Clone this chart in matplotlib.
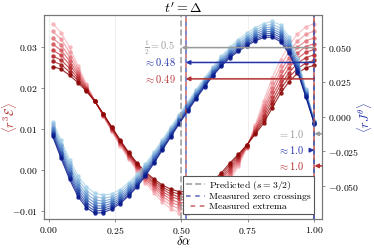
import numpy as np
import matplotlib
matplotlib.use("Agg")
import matplotlib.pyplot as plt
from matplotlib.colors import LinearSegmentedColormap
from matplotlib.ticker import FuncFormatter

plt.rcParams["font.family"] = "serif"
plt.rcParams["font.serif"] = ["cmr10"]
plt.rcParams["mathtext.fontset"] = "cm"
plt.rcParams["axes.formatter.use_mathtext"] = True

# -----------------------------
#  data (values in units of 1e-3)
# -----------------------------
d_alpha = np.linspace(0.015, 1.0, 32)

# <r^3 E>, darkest run first, lightest last
red_runs = [
    [25.3, 24.7, 23.2, 21.4, 19.3, 16.8, 13.8, 10.6, 7.4, 4.4, 1.8, -0.4, -2.1, -3.6, -4.6, -5.2,
     -5.2, -4.8, -4.0, -2.5, -0.6, 1.8, 3.9, 6.2, 8.8, 11.5, 15.2, 18.8, 21.6, 23.7, 25.0, 25.6],
    [26.6, 25.8, 24.0, 21.9, 19.5, 16.8, 13.7, 10.5, 7.2, 4.2, 1.6, -0.7, -2.5, -4.1, -5.2, -5.8,
     -5.8, -5.4, -4.6, -3.1, -1.2, 1.3, 3.6, 6.1, 9.1, 12.2, 16.1, 19.8, 22.7, 24.8, 26.2, 26.8],
    [27.9, 26.9, 24.9, 22.4, 19.7, 16.9, 13.7, 10.3, 7.1, 4.0, 1.3, -1.1, -3.0, -4.6, -5.8, -6.5,
     -6.5, -6.1, -5.2, -3.7, -1.8, 0.7, 3.2, 6.0, 9.4, 12.9, 17.0, 20.9, 23.8, 26.1, 27.5, 28.2],
    [29.3, 28.1, 25.8, 23.0, 19.9, 16.9, 13.6, 10.2, 6.9, 3.8, 1.0, -1.4, -3.4, -5.2, -6.4, -7.1,
     -7.2, -6.7, -5.9, -4.3, -2.3, 0.2, 2.8, 5.9, 9.6, 13.6, 18.0, 21.9, 25.0, 27.3, 28.8, 29.5],
    [30.8, 29.3, 26.7, 23.5, 20.2, 16.9, 13.5, 10.0, 6.7, 3.6, 0.8, -1.8, -3.9, -5.7, -7.1, -7.9,
     -7.9, -7.5, -6.5, -5.0, -3.0, -0.4, 2.4, 5.8, 9.9, 14.4, 19.0, 23.1, 26.2, 28.6, 30.2, 30.9],
    [32.2, 30.6, 27.7, 24.1, 20.4, 16.9, 13.4, 9.9, 6.5, 3.3, 0.5, -2.1, -4.3, -6.3, -7.8, -8.6,
     -8.6, -8.2, -7.2, -5.7, -3.6, -1.0, 2.0, 5.7, 10.3, 15.1, 20.0, 24.2, 27.5, 30.0, 31.6, 32.3],
    [33.9, 32.0, 28.8, 24.8, 20.7, 17.0, 13.3, 9.7, 6.3, 3.1, 0.2, -2.5, -4.9, -7.0, -8.5, -9.4,
     -9.5, -9.0, -8.0, -6.4, -4.4, -1.7, 1.5, 5.6, 10.6, 16.0, 21.2, 25.5, 28.9, 31.5, 33.2, 34.0],
    [35.8, 33.6, 30.0, 25.5, 21.0, 17.0, 13.2, 9.5, 6.0, 2.8, -0.2, -3.0, -5.5, -7.7, -9.4, -10.3,
     -10.4, -9.9, -8.9, -7.3, -5.2, -2.5, 1.0, 5.5, 11.0, 17.0, 22.5, 27.0, 30.5, 33.2, 35.0, 35.8],
]

# <r J^theta>, darkest run first, lightest last
blue_runs = [
    [-14.1, -30.0, -45.0, -57.5, -65.5, -69.5, -69.0, -66.5, -62.5, -57.0, -50.5, -42.5, -33.5, -24.0, -14.5, -5.0,
     4.0, 13.0, 21.5, 29.5, 36.5, 42.5, 47.0, 51.0, 54.5, 57.0, 57.3, 54.0, 45.5, 32.5, 14.0, -5.0],
    [-12.8, -28.4, -43.3, -55.7, -63.7, -67.8, -67.5, -65.2, -61.3, -55.9, -49.4, -41.5, -32.5, -23.1, -13.7, -4.2,
     4.8, 13.8, 22.3, 30.3, 37.3, 43.4, 48.0, 52.1, 55.6, 58.2, 58.6, 55.4, 46.9, 33.7, 14.7, -4.8],
    [-11.5, -26.8, -41.5, -53.8, -61.8, -65.9, -65.9, -63.8, -60.0, -54.6, -48.3, -40.4, -31.5, -22.1, -12.8, -3.4,
     5.6, 14.6, 23.1, 31.1, 38.3, 44.4, 49.1, 53.3, 56.9, 59.5, 60.1, 57.0, 48.5, 35.0, 15.5, -4.5],
    [-10.1, -25.1, -39.7, -51.8, -59.8, -64.0, -64.3, -62.3, -58.7, -53.4, -47.1, -39.3, -30.5, -21.2, -11.8, -2.5,
     6.5, 15.5, 24.0, 32.0, 39.2, 45.4, 50.2, 54.4, 58.1, 60.8, 61.6, 58.6, 50.1, 36.3, 16.3, -4.2],
    [-8.6, -23.2, -37.7, -49.7, -57.7, -62.0, -62.5, -60.8, -57.3, -52.1, -45.8, -38.1, -29.3, -20.1, -10.9, -1.6,
     7.4, 16.4, 24.9, 32.9, 40.1, 46.4, 51.4, 55.7, 59.4, 62.2, 63.1, 60.2, 51.7, 37.7, 17.1, -4.0],
    [-7.1, -21.4, -35.8, -47.6, -55.6, -59.9, -60.8, -59.2, -55.9, -50.7, -44.6, -36.9, -28.2, -19.1, -9.9, -0.7,
     8.3, 17.3, 25.8, 33.8, 41.1, 47.5, 52.6, 56.9, 60.8, 63.6, 64.7, 61.9, 53.4, 39.1, 18.0, -3.7],
    [-5.4, -19.3, -33.5, -45.2, -53.2, -57.6, -58.8, -57.5, -54.3, -49.2, -43.1, -35.5, -26.9, -17.9, -8.8, 0.3,
     9.3, 18.3, 26.8, 34.8, 42.2, 48.7, 54.0, 58.4, 62.3, 65.2, 66.5, 63.8, 55.3, 40.7, 18.9, -3.4],
    [-3.5, -17.0, -31.0, -42.5, -50.5, -55.0, -56.5, -55.5, -52.5, -47.5, -41.5, -34.0, -25.5, -16.5, -7.5, 1.5,
     10.5, 19.5, 28.0, 36.0, 43.5, 50.0, 55.5, 60.0, 64.0, 67.0, 68.5, 66.0, 57.5, 42.5, 20.0, -3.0],
]

# predicted / measured positions
predicted = [0.5, 1.0]
zero_cross = [0.516, 1.0]
extrema = [0.516, 1.0]

c_gray = "#9a9a9a"
c_blue = "#2233a8"
c_red = "#b43030"

# -----------------------------
#  figure
# -----------------------------
fig = plt.figure(figsize=(3.74, 2.49), dpi=100)
ax = fig.add_axes([0.118, 0.12, 0.743, 0.82])
ax2 = ax.twinx()

red_cmap = LinearSegmentedColormap.from_list("rr", ["#8e0808", "#d24a52", "#f7b4ba"])
blue_cmap = LinearSegmentedColormap.from_list("bb", ["#0a1a8c", "#4a7cc4", "#aad4ea"])
n = len(red_runs)
for i in range(n - 1, -1, -1):
    ax.plot(d_alpha, np.array(red_runs[i]) * 1e-3, "-o", color=red_cmap(i / (n - 1)),
            lw=0.8, ms=2.2, alpha=0.85)
for i in range(n - 1, -1, -1):
    ax2.plot(d_alpha, np.array(blue_runs[i]) * 1e-3, "-o", color=blue_cmap(i / (n - 1)),
             lw=0.8, ms=2.2, alpha=0.85)

# vertical markers
ax2.axvline(predicted[0], color=c_gray, ls=(0, (4, 2)), lw=1.1, label="Predicted ($s = 3/2$)")
ax2.axvline(zero_cross[0], color=c_blue, ls=(0, (3, 3)), lw=1.1, alpha=0.75, label="Measured zero crossings")
ax2.axvline(extrema[0], color=c_red, ls=(3, (3, 3)), lw=1.1, alpha=0.75, label="Measured extrema")
ax2.axvline(predicted[1], color=c_gray, ls=(0, (4, 2)), lw=1.1)
ax2.axvline(zero_cross[1], color=c_blue, ls=(0, (3, 3)), lw=1.1, alpha=0.8)
ax2.axvline(extrema[1], color=c_red, ls=(3, (3, 3)), lw=1.1, alpha=0.8)

# long arrows to the first zero / extremum
arr = dict(arrowstyle="-|>", lw=1.1, mutation_scale=6, shrinkA=0, shrinkB=0)
for xv, yv, col, txt in [(predicted[0], 0.0497, c_gray, r"$\frac{1}{2} = 0.5$"),
                         (zero_cross[0], 0.0390, c_blue, r"$\approx 0.48$"),
                         (extrema[0], 0.0272, c_red, r"$\approx 0.49$")]:
    ax2.annotate("", xy=(xv, yv), xytext=(1.0, yv), arrowprops=dict(arr, color=col))
    ax2.text(0.478, yv, txt, color=col, ha="right", va="center", fontsize=7.5)

# short arrows at the second one
for yv, col, txt, x0 in [(-0.0123, c_gray, r"$= 1.0$", 1.028),
                         (-0.0241, c_blue, r"$\approx 1.0$", 0.985),
                         (-0.0354, c_red, r"$\approx 1.0$", 1.028)]:
    ax2.annotate("", xy=(1.0, yv), xytext=(x0, yv), arrowprops=dict(arr, color=col))
    ax2.text(0.965, yv, txt, color=col, ha="right", va="center", fontsize=7.5)

# axes styling
ax.set_xlim(-0.017, 1.029)
ax.set_ylim(-0.0119, 0.0379)
ax2.set_ylim(-0.0737, 0.0732)
ax.set_xticks([0, 0.25, 0.5, 0.75, 1.0])
ax.set_yticks([-0.01, 0.0, 0.01, 0.02, 0.03])
ax2.set_yticks([-0.05, -0.025, 0.0, 0.025, 0.05])
ax.xaxis.set_major_formatter(FuncFormatter(lambda v, p: f"${v:.2f}$"))
ax.yaxis.set_major_formatter(FuncFormatter(lambda v, p: f"${v:.2f}$"))
ax2.yaxis.set_major_formatter(FuncFormatter(lambda v, p: f"${v:.3f}$"))
for a in (ax, ax2):
    a.tick_params(labelsize=7, length=2.5, width=0.6, color="#777777", pad=2)
    for s in a.spines.values():
        s.set_color("#777777")
        s.set_linewidth(0.8)
ax.tick_params(axis="x", pad=1.5)
ax.xaxis.grid(True, color="#ececec", lw=0.6)
ax.set_axisbelow(True)

fig.text(0.49, 0.965, r"$t' = \Delta$", fontsize=10, ha="center", va="center")
ax.set_xlabel(r"$\delta\alpha$", fontsize=9)
ax.xaxis.set_label_coords(0.5, -0.076)
ax.set_ylabel(r"$\langle r^3 \mathcal{E} \rangle$", color=c_red, fontsize=9)
ax.yaxis.set_label_coords(-0.092, 0.5)
ax2.set_ylabel(r"$\langle r J^\theta \rangle$", color=c_blue, fontsize=9)
ax2.yaxis.set_label_coords(1.117, 0.5)

leg = ax2.legend(loc="lower right", bbox_to_anchor=(0.97, 0.025), fontsize=7, frameon=True,
                 fancybox=False, edgecolor="#555555", framealpha=1.0, borderpad=0.3,
                 labelspacing=0.1, handlelength=2.0, handletextpad=0.4, borderaxespad=0)
leg.get_frame().set_linewidth(0.8)

fig.savefig("out.png", dpi=100)
